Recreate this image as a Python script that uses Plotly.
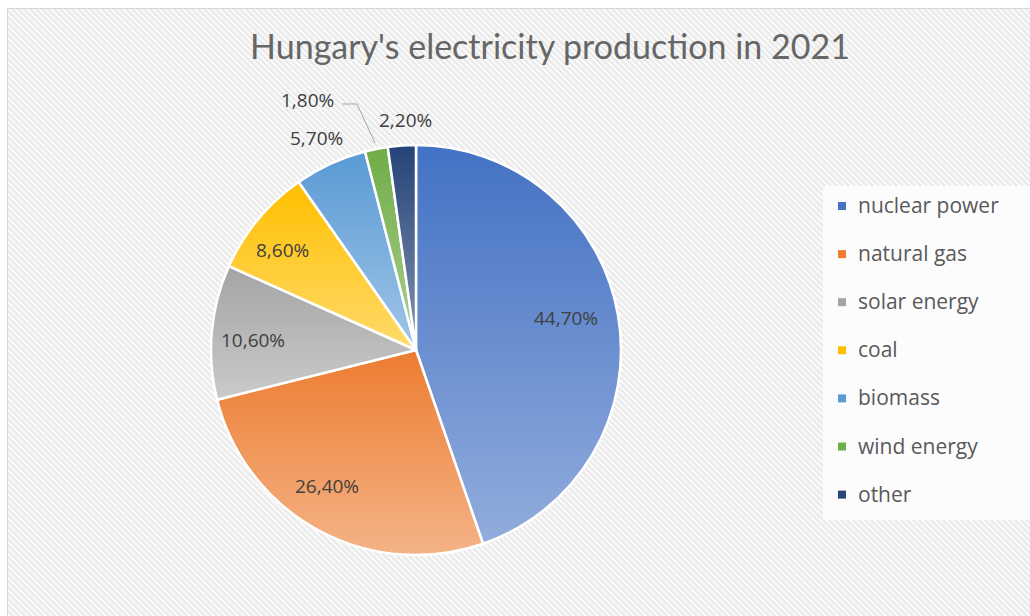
import base64
import struct
import zlib

import numpy as np
import plotly.graph_objects as go

# ---- data -------------------------------------------------------------
categories = ["nuclear power", "natural gas", "solar energy", "coal",
              "biomass", "wind energy", "other"]
shares = [44.7, 26.4, 10.6, 8.6, 5.7, 1.8, 2.2]   # percent of production
colors = ["#4472C4", "#ED7D31", "#A5A5A5", "#FFC000",
          "#5B9BD5", "#70AD47", "#264478"]
title_text = "Hungary's electricity production in 2021"

# ---- canvas geometry (pixels) -----------------------------------------
W, H = 1030, 616
CX, CY, R = 416, 350, 205          # pie centre and radius


def fx(x):
    return x / W


def fy(y):
    return 1 - y / H


def png_uri(rgba):
    """Encode an HxWx4 uint8 array as a PNG data URI."""
    h, w, _ = rgba.shape
    raw = b"".join(b"\x00" + rgba[r].tobytes() for r in range(h))

    def chunk(tag, data):
        c = struct.pack(">I", len(data)) + tag + data
        return c + struct.pack(">I", zlib.crc32(tag + data) & 0xFFFFFFFF)

    png = (b"\x89PNG\r\n\x1a\n"
           + chunk(b"IHDR", struct.pack(">IIBBBBB", w, h, 8, 6, 0, 0, 0))
           + chunk(b"IDAT", zlib.compress(raw, 9))
           + chunk(b"IEND", b""))
    return "data:image/png;base64," + base64.b64encode(png).decode()


# ---- diagonal hatched chart-area background ---------------------------
yy, xx = np.mgrid[0:H, 0:W]
v = 242 + 10 * np.cos(2 * np.pi * (xx - yy) / 6.0)
bg = np.empty((H, W, 4), dtype=np.uint8)
bg[..., 0] = bg[..., 1] = bg[..., 2] = v.astype(np.uint8)
bg[..., 3] = 255
outside = (xx < 7) | (yy < 8)
bg[outside, :3] = 255
bg[(xx == 7) & (yy >= 8), :3] = 215
bg[(yy == 8) & (xx >= 7), :3] = 215

# ---- per-slice vertical light gradient over the pie --------------------
S = 2 * R
gy, gx = np.mgrid[0:S, 0:S] + 0.5
dx, dy = gx - R, gy - R
dist = np.hypot(dx, dy)
theta = (np.degrees(np.arctan2(dx, -dy)) % 360) / 360 * 100
bounds = np.cumsum(shares)
idx = np.clip(np.searchsorted(bounds, theta), 0, len(shares) - 1)
inside = dist <= R
alpha = np.zeros((S, S))
for k in range(len(shares)):
    m = inside & (idx == k)
    if not m.any():
        continue
    ys = gy[m]
    lo, hi = ys.min(), ys.max()
    alpha[m] = 0.42 * (ys - lo) / max(hi - lo, 1)
alpha *= np.clip(R - dist + 0.5, 0, 1)
ov = np.zeros((S, S, 4), dtype=np.uint8)
ov[..., :3] = 255
ov[..., 3] = (alpha * 255).astype(np.uint8)

# ---- figure -------------------------------------------------------------
fig = go.Figure()
fig.add_trace(go.Pie(
    labels=categories,
    values=shares,
    sort=False,
    direction="clockwise",
    rotation=0,
    marker=dict(colors=colors, line=dict(color="white", width=2.5)),
    textinfo="none",
    hoverinfo="label+percent",
    showlegend=False,
    domain=dict(x=[fx(CX - R), fx(CX + R)], y=[fy(CY + R), fy(CY - R)]),
))


def pct(v):
    return f"{v:.2f}".replace(".", ",") + "%"


# data label positions (pixels) in category order
label_pos = [(566, 318), (327, 486), (253, 340), (282, 250),
             (316, 138), (307, 100), (405, 120)]
annotations = []
for val, (lx, ly) in zip(shares, label_pos):
    annotations.append(dict(
        x=fx(lx), y=fy(ly), xref="paper", yref="paper",
        text=pct(val), showarrow=False, xanchor="center", yanchor="middle",
        font=dict(family="Open Sans", size=19, color="#404040"),
    ))

shapes = [
    # leader line for the small wind-energy slice
    dict(type="path", path=f"M {fx(342)} {fy(104)} L {fx(357)} {fy(104)} "
                          f"L {fx(375)} {fy(143)}",
         xref="paper", yref="paper", line=dict(color="#a6a6a6", width=1)),
    # legend panel
    dict(type="rect", xref="paper", yref="paper", layer="below",
         x0=fx(823), x1=1, y0=fy(520), y1=fy(186),
         fillcolor="#fcfcfc", line=dict(width=0)),
]

# legend entries
for i, (name, col) in enumerate(zip(categories, colors)):
    yc = 206 + 48.1 * i
    shapes.append(dict(type="rect", xref="paper", yref="paper",
                       x0=fx(838), x1=fx(846), y0=fy(yc + 4), y1=fy(yc - 4),
                       fillcolor=col, line=dict(width=0)))
    annotations.append(dict(
        x=fx(856), y=fy(yc - 1), xref="paper", yref="paper", text=name,
        showarrow=False, xanchor="left", yanchor="middle",
        font=dict(family="Open Sans", size=21, color="#595959"),
    ))

fig.update_layout(
    width=W, height=H,
    margin=dict(l=0, r=0, t=0, b=0),
    paper_bgcolor="white",
    separators=",.",
    title=dict(text=title_text, x=fx(550), xanchor="center",
               y=fy(47), yanchor="middle", yref="paper",
               font=dict(family="Lato", size=34, color="#666666")),
    images=[
        dict(source=png_uri(bg), xref="paper", yref="paper", x=0, y=1,
             sizex=1, sizey=1, xanchor="left", yanchor="top",
             sizing="stretch", layer="below"),
        dict(source=png_uri(ov), xref="paper", yref="paper",
             x=fx(CX - R), y=fy(CY - R), sizex=S / W, sizey=S / H,
             xanchor="left", yanchor="top", sizing="stretch", layer="above"),
    ],
    shapes=shapes,
    annotations=annotations,
)

fig.write_html("out.html")
